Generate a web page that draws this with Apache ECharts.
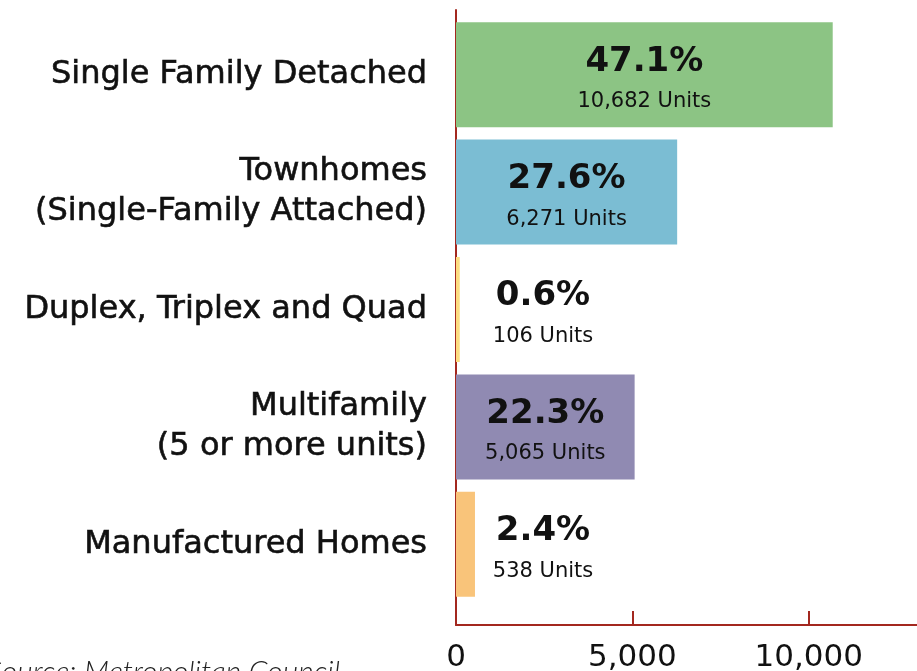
<!DOCTYPE html>
<html>
<head>
<meta charset="utf-8">
<script src="https://cdn.jsdelivr.net/npm/echarts@6/dist/echarts.min.js"></script>
<style>
  html, body { margin: 0; padding: 0; background: #fff; }
  #chart { width: 917px; height: 671px; }
</style>
</head>
<body>
<div id="chart"></div>
<script>
const categories = [
  "Single Family Detached",
  "Townhomes\n(Single-Family Attached)",
  "Duplex, Triplex and Quad",
  "Multifamily\n(5 or more units)",
  "Manufactured Homes"
];
const units = [10682, 6271, 106, 5065, 538];
const percents = ["47.1%", "27.6%", "0.6%", "22.3%", "2.4%"];
const colors = ["#8cc484", "#7bbdd3", "#fcdc80", "#908ab2", "#f9c47a"];
const xTicks = [0, 5000, 10000];

const FONT = "'DejaVu Sans', sans-serif";
const AXIS_RED = "#a3281f";

const chart = echarts.init(document.getElementById("chart"));

const barData = units.map((v, i) => {
  const small = v < 1000;
  return {
    value: v,
    itemStyle: { color: colors[i] },
    label: small
      ? { position: [87, "50%"], align: "center", verticalAlign: "middle" }
      : { position: "inside" }
  };
});

chart.setOption({
  animation: false,
  title: {
    text: "Source: Metropolitan Council",
    left: -18,
    top: 652,
    textStyle: {
      fontFamily: "Lato, sans-serif",
      fontStyle: "italic",
      fontWeight: 300,
      fontSize: 30,
      color: "#222"
    }
  },
  grid: [
    { left: 456, right: -68, top: 10, bottom: 46, outerBoundsMode: "none" },
    { left: 456, right: -68, top: 16, bottom: 68, outerBoundsMode: "none" }
  ],
  xAxis: [
    {
      gridIndex: 0,
      type: "value",
      min: 0,
      max: 15000,
      interval: 5000,
      splitLine: { show: false },
      axisLine: { show: true, lineStyle: { color: AXIS_RED, width: 2 } },
      axisTick: { show: true, inside: true, length: 14, lineStyle: { color: AXIS_RED, width: 2 } },
      axisLabel: {
        margin: 17,
        fontFamily: FONT,
        fontSize: 31,
        color: "#111",
        formatter: (v) => (xTicks.includes(v) ? v.toLocaleString("en-US") : "")
      }
    },
    {
      gridIndex: 1,
      type: "value",
      min: 0,
      max: 15000,
      show: false
    }
  ],
  yAxis: [
    {
      gridIndex: 0,
      type: "value",
      min: 0,
      max: 1,
      axisLine: { show: true, lineStyle: { color: AXIS_RED, width: 2 } },
      axisTick: { show: false },
      axisLabel: { show: false },
      splitLine: { show: false }
    },
    {
      gridIndex: 1,
      type: "category",
      inverse: true,
      data: categories,
      axisLine: { show: false },
      axisTick: { show: false },
      axisLabel: {
        margin: 29,
        fontFamily: FONT,
        fontSize: 32,
        lineHeight: 40,
        padding: [7, 0, 0, 0],
        color: "#111",
        textBorderColor: "#111",
        textBorderWidth: 0.6,
        align: "right"
      }
    }
  ],
  series: [
    {
      type: "bar",
      xAxisIndex: 1,
      yAxisIndex: 1,
      barWidth: 105,
      data: barData,
      z: 1,
      label: {
        show: true,
        offset: [0, 7],
        formatter: (p) =>
          "{p|" + percents[p.dataIndex] + "}\n{u|" + units[p.dataIndex].toLocaleString("en-US") + " Units}",
        rich: {
          p: { fontFamily: FONT, fontWeight: "bold", fontSize: 34, lineHeight: 40, color: "#111" },
          u: { fontFamily: FONT, fontSize: 21, lineHeight: 40, color: "#111" }
        }
      }
    }
  ]
});
</script>
</body>
</html>
